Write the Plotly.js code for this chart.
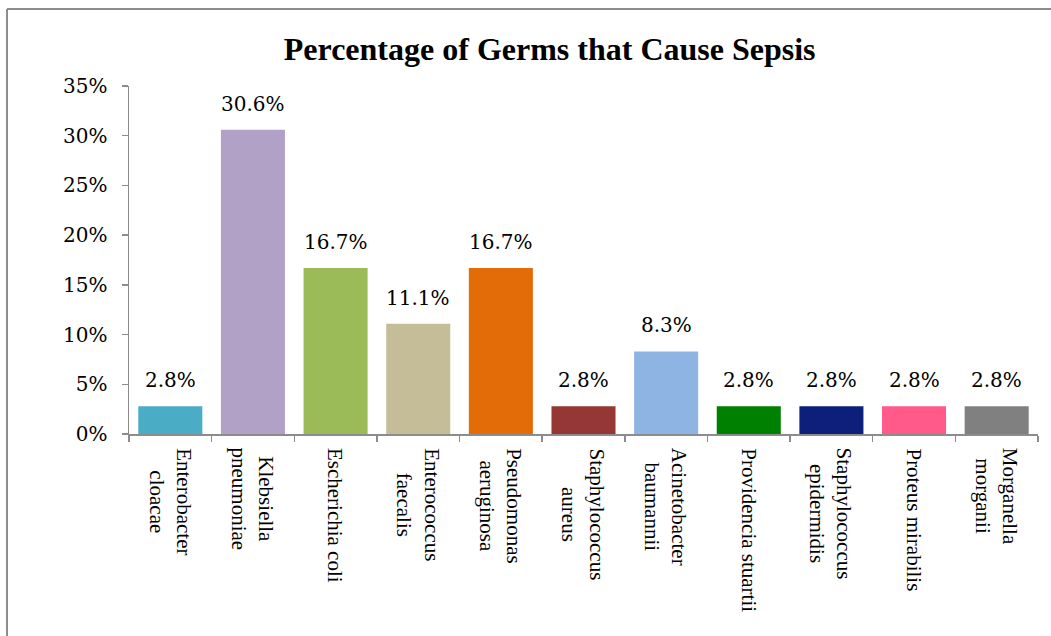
<!DOCTYPE html>
<html>
<head>
<meta charset="utf-8">
<script src="https://cdn.plot.ly/plotly-3.0.1.min.js"></script>
<style>
  html, body { margin: 0; padding: 0; background: #ffffff; }
  #chart { width: 1051px; height: 636px; }
</style>
</head>
<body>
<div id="chart"></div>
<script>
const categories = [
  "Enterobacter<br>cloacae",
  "Klebsiella<br>pneumoniae",
  "Escherichia coli",
  "Enterococcus<br>faecalis",
  "Pseudomonas<br>aeruginosa",
  "Staphylococcus<br>aureus",
  "Acinetobacter<br>baumannii",
  "Providencia stuartii",
  "Staphylococcus<br>epidermidis",
  "Proteus mirabilis",
  "Morganella<br>morganii"
];
const percentages = [2.8, 30.6, 16.7, 11.1, 16.7, 2.8, 8.3, 2.8, 2.8, 2.8, 2.8];
const barColors = ["#4BACC6", "#B2A1C7", "#9BBB59", "#C4BD97", "#E36C09", "#953735",
                   "#8EB4E3", "#008000", "#0B1F7B", "#FF5A8A", "#808080"];
const yTickValues = [0, 5, 10, 15, 20, 25, 30, 35];

const trace = {
  type: "bar",
  x: categories,
  y: percentages,
  marker: { color: barColors, line: { width: 0 } },
  hoverinfo: "none"
};

const axisGray = "#8c8c8c";

// value labels above bars
const valueLabels = categories.map((c, i) => ({
  x: c, y: percentages[i], xref: "x", yref: "y",
  text: percentages[i].toFixed(1) + "%",
  showarrow: false, xanchor: "center", yanchor: "bottom", yshift: 12,
  font: { family: "DejaVu Serif", size: 20, color: "#000000" }
}));

// rotated category labels, lines centred
const categoryLabels = categories.map(c => ({
  x: c, y: 0, xref: "x", yref: "paper",
  text: c, textangle: 90, align: "center",
  showarrow: false, xanchor: "center", yanchor: "top", yshift: -12,
  font: { family: "Liberation Serif", size: 21, color: "#000000" }
}));

const layout = {
  width: 1051,
  height: 636,
  margin: { l: 129, r: 13, t: 86, b: 202 },
  paper_bgcolor: "#ffffff",
  plot_bgcolor: "#ffffff",
  showlegend: false,
  bargap: 0.225,
  title: {
    text: "<b>Percentage of Germs that Cause Sepsis</b>",
    font: { family: "Liberation Serif", size: 32, color: "#000000" },
    xref: "container", x: 0.523, xanchor: "center",
    yref: "container", y: 0.923, yanchor: "middle"
  },
  xaxis: {
    type: "category",
    showline: true, linecolor: axisGray, linewidth: 1.5,
    ticks: "outside", tickson: "boundaries", ticklen: 6, tickcolor: axisGray, tickwidth: 1.5,
    showticklabels: false,
    showgrid: false, zeroline: false
  },
  yaxis: {
    range: [0, 35],
    tickvals: yTickValues,
    ticktext: yTickValues.map(v => v + "%"),
    showline: true, linecolor: axisGray, linewidth: 1.5,
    ticks: "outside", ticklen: 6, tickcolor: axisGray, tickwidth: 1.5,
    tickfont: { family: "DejaVu Serif", size: 20, color: "#000000" },
    ticklabelstandoff: 10,
    showgrid: false, zeroline: false
  },
  annotations: valueLabels.concat(categoryLabels),
  shapes: [
    { type: "line", xref: "paper", yref: "paper",
      x0: -0.1342, x1: 1.2, y0: 1.2213, y1: 1.2213,
      line: { color: "#8c8c8c", width: 2 } },
    { type: "line", xref: "paper", yref: "paper",
      x0: -0.1342, x1: -0.1342, y0: 1.2213, y1: -0.7,
      line: { color: "#8c8c8c", width: 2 } }
  ]
};

Plotly.newPlot("chart", [trace], layout, { staticPlot: true, displayModeBar: false });
</script>
</body>
</html>
